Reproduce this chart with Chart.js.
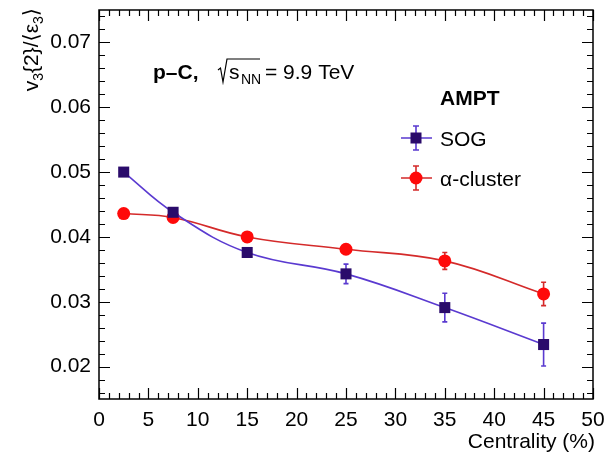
<!DOCTYPE html>
<html><head><meta charset="utf-8">
<script src="https://cdn.jsdelivr.net/npm/chart.js@4/dist/chart.umd.min.js"></script>
<style>html,body{margin:0;padding:0;background:#fff}#wrap{width:606px;height:456px;position:relative}</style>
</head><body><div id="wrap"><canvas id="c" width="606" height="456"></canvas></div>
<script>
const centrality = [2.5, 7.5, 15, 25, 35, 45];
const sogV3 = [0.0500, 0.0438, 0.0376, 0.0343, 0.0291, 0.0234];
const sogErr = [0.0003, 0.0005, 0.0005, 0.0015, 0.0022, 0.0033];
const alphaV3 = [0.0436, 0.0430, 0.0400, 0.0381, 0.0363, 0.0312];
const alphaErr = [0.0003, 0.0003, 0.0004, 0.0006, 0.0013, 0.0018];
const xTicks = [0, 5, 10, 15, 20, 25, 30, 35, 40, 45, 50];
const yTicks = [0.02, 0.03, 0.04, 0.05, 0.06, 0.07];
const seriesNames = ['SOG', 'α-cluster'];

const FONT = '"Liberation Sans", Arial, "DejaVu Sans", sans-serif';
const SOG_MARK = '#2a0b6b', SOG_LINE = '#5a3ad0';
const ALP_MARK = '#ff0a0a', ALP_LINE = '#d42a2a';

function pts(xs, ys){ return xs.map((x,i)=>({x:x, y:ys[i]})); }

const errs = [sogErr, alphaErr];

const framePlugin = {
  id: 'frame',
  beforeDatasetsDraw(chart){
    const ctx = chart.ctx, xs = chart.scales.x, ys = chart.scales.y;
    ctx.save();
    chart.data.datasets.forEach((ds, di) => {
      ctx.strokeStyle = ds.borderColor; ctx.lineWidth = 1.6;
      ds.data.forEach((p, i) => {
        const e = errs[di][i];
        const px = xs.getPixelForValue(p.x);
        const y1 = ys.getPixelForValue(p.y + e), y2 = ys.getPixelForValue(p.y - e);
        ctx.beginPath(); ctx.moveTo(px, y1); ctx.lineTo(px, y2);
        ctx.moveTo(px-2.5, y1); ctx.lineTo(px+2.5, y1);
        ctx.moveTo(px-2.5, y2); ctx.lineTo(px+2.5, y2);
        ctx.stroke();
      });
    });
    ctx.restore();
  },
  afterDraw(chart){
    const ctx = chart.ctx, a = chart.chartArea, xs = chart.scales.x, ys = chart.scales.y;
    ctx.save();
    ctx.strokeStyle = '#000'; ctx.lineWidth = 1.5;
    ctx.strokeRect(a.left, a.top, a.right - a.left, a.bottom - a.top);
    ctx.lineWidth = 1.2;
    ctx.beginPath();
    for (let k = 8; k <= 37; k++) {
      const v = k * 0.002; if (v < ys.min || v > ys.max) continue;
      const py = Math.round(ys.getPixelForValue(v)) + 0.5;
      const len = (k % 5 === 0) ? 11 : 6;
      ctx.moveTo(a.left, py); ctx.lineTo(a.left + len, py);
      ctx.moveTo(a.right, py); ctx.lineTo(a.right - len, py);
    }
    for (let i = 0; i <= 50; i++) {
      const px = Math.round(xs.getPixelForValue(i)) + 0.5;
      const len = (i % 5 === 0) ? 11 : 6;
      ctx.moveTo(px, a.bottom); ctx.lineTo(px, a.bottom - len);
      ctx.moveTo(px, a.top); ctx.lineTo(px, a.top + len);
    }
    ctx.stroke();

    ctx.fillStyle = '#000';
    // x title
    ctx.font = '21px ' + FONT; ctx.textAlign = 'right'; ctx.textBaseline = 'alphabetic';
    ctx.fillText('Centrality (%)', 595, 448);

    // y title rotated
    const parts = [['v',21,0],['3',14,5],['{2}/⟨ε',21,0],['3',14,5],['⟩',21,0]];
    let total = 0;
    parts.forEach(p => { ctx.font = p[1]+'px '+FONT; total += ctx.measureText(p[0]).width; });
    ctx.save();
    ctx.translate(38, 8 + total);
    ctx.rotate(-Math.PI/2);
    ctx.textAlign = 'left';
    let cx = 0;
    parts.forEach(p => { ctx.font = p[1]+'px '+FONT; ctx.fillText(p[0], cx, p[2]); cx += ctx.measureText(p[0]).width; });
    ctx.restore();

    // annotation
    ctx.textAlign = 'left';
    ctx.font = 'bold 21px ' + FONT;
    ctx.fillText('p–C,', 153, 79);
    ctx.beginPath(); ctx.lineWidth = 1.2;
    ctx.moveTo(218, 70); ctx.lineTo(220.5, 68); ctx.lineTo(223, 82); ctx.lineTo(227, 59); ctx.lineTo(260, 59);
    ctx.stroke();
    ctx.font = '21px ' + FONT;
    ctx.fillText('s', 229, 79);
    ctx.font = '14px ' + FONT;
    ctx.fillText('NN', 241, 84);
    ctx.font = '21px ' + FONT;
    ctx.fillText('= 9.9 TeV', 265, 79);

    // legend
    ctx.font = 'bold 21px ' + FONT;
    ctx.fillText('AMPT', 440, 105);
    ctx.font = '21px ' + FONT;
    const leg = [[138, SOG_LINE, SOG_MARK, 'rect'], [178, ALP_LINE, ALP_MARK, 'circle']];
    leg.forEach((l, i) => {
      const y = l[0], mx = 416;
      ctx.strokeStyle = l[1]; ctx.lineWidth = 1.6;
      ctx.beginPath();
      ctx.moveTo(401, y); ctx.lineTo(432, y);
      ctx.moveTo(mx, y-12); ctx.lineTo(mx, y+12);
      ctx.moveTo(mx-3, y-12); ctx.lineTo(mx+3, y-12);
      ctx.moveTo(mx-3, y+12); ctx.lineTo(mx+3, y+12);
      ctx.stroke();
      ctx.fillStyle = l[2];
      if (l[3] === 'rect') ctx.fillRect(mx-5.5, y-5.5, 11, 11);
      else { ctx.beginPath(); ctx.arc(mx, y, 6.5, 0, Math.PI*2); ctx.fill(); }
      ctx.fillStyle = '#000';
      ctx.fillText(seriesNames[i], 440, y + 8);
    });
    ctx.restore();
  }
};

new Chart(document.getElementById('c'), {
  type: 'scatter',
  data: {
    datasets: [
      { label: seriesNames[0], data: pts(centrality, sogV3), showLine: true, tension: 0.4,
        borderColor: SOG_LINE, borderWidth: 1.6, pointStyle: 'rect', pointRadius: 7.8,
        pointBackgroundColor: SOG_MARK, pointBorderColor: SOG_MARK, pointBorderWidth: 0 },
      { label: seriesNames[1], data: pts(centrality, alphaV3), showLine: true, tension: 0.4,
        borderColor: ALP_LINE, borderWidth: 1.6, pointStyle: 'circle', pointRadius: 6.5,
        pointBackgroundColor: ALP_MARK, pointBorderColor: ALP_MARK, pointBorderWidth: 0 }
    ]
  },
  options: {
    responsive: false, animation: false, devicePixelRatio: 1,
    layout: { padding: { top: 10, right: 13, left: 0, bottom: 0 } },
    plugins: { legend: { display: false }, tooltip: { enabled: false } },
    scales: {
      x: { type: 'linear', min: 0, max: 50,
        afterBuildTicks: s => { s.ticks = xTicks.map(v => ({ value: v })); },
        afterFit: s => { s.height = 57; s.paddingLeft = 0; s.paddingRight = 0; },
        grid: { display: false, drawTicks: false }, border: { display: false },
        ticks: { color: '#000', font: { size: 21, family: FONT }, padding: 9, maxRotation: 0, autoSkip: false,
          callback: v => String(v) } },
      y: { type: 'linear', min: 0.015, max: 0.075,
        afterBuildTicks: s => { s.ticks = yTicks.map(v => ({ value: v })); },
        afterFit: s => { s.width = 99; s.paddingTop = 0; s.paddingBottom = 0; },
        grid: { display: false, drawTicks: false }, border: { display: false },
        ticks: { color: '#000', font: { size: 21, family: FONT }, padding: 8, autoSkip: false,
          callback: v => v.toFixed(2) } }
    }
  },
  plugins: [framePlugin]
});
</script></body></html>
